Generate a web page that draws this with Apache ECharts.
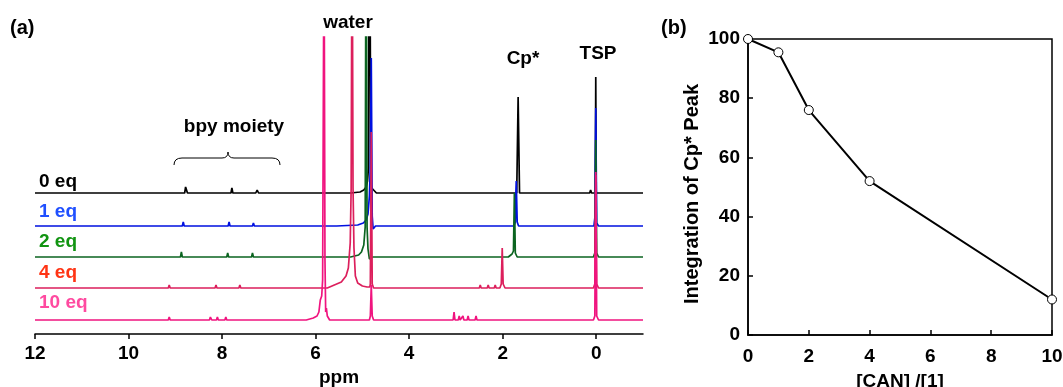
<!DOCTYPE html>
<html>
<head>
<meta charset="utf-8">
<script src="https://cdn.jsdelivr.net/npm/echarts@6/dist/echarts.min.js"></script>
<style>
html,body{margin:0;padding:0;background:#fff;overflow:hidden;}
#c{width:1063px;height:387px;}
</style>
</head>
<body>
<div id="c"></div>
<script>
// ---------- DATA ----------
const ppmTicks = [12, 10, 8, 6, 4, 2, 0];
const eqLabels = ['0 eq', '1 eq', '2 eq', '4 eq', '10 eq'];
const baselineOffsets = [141, 108, 77, 46, 14];

// spectra as [ppm, intensity] points
const spec0eq = [[12,0],[8.80,0],[8.78,6],[8.74,0],[7.81,0],[7.79,5],[7.77,0],[7.28,0],[7.25,3],[7.22,0],
  [5.25,0],[5.05,1],[4.97,3],[4.92,6],[4.89,12],[4.87,25],[4.85,400],[4.82,10],[4.80,5],[4.70,0],
  [1.70,0],[1.67,96],[1.64,0],[0.14,0],[0.12,3],[0.10,0],[0.02,0],[0.01,116],[0.0,0],[-1,0]];
const spec1eq = [[12,0],[8.85,0],[8.83,4],[8.81,0],[7.87,0],[7.85,4],[7.83,0],[7.35,0],[7.33,3],[7.31,0],
  [5.55,0],[5.10,1],[4.98,3],[4.92,6],[4.88,12],[4.85,30],[4.83,60],[4.81,168],[4.79,10],[4.77,-3],[4.72,0],
  [1.76,0],[1.73,4],[1.72,30],[1.71,45],[1.69,4],[1.66,0],[0.05,0],[0.03,8],[0.01,118],[-0.01,3],[-0.05,0],[-1,0]];
const spec2eq = [[12,0],[8.89,0],[8.87,5],[8.85,0],[7.90,0],[7.88,4],[7.86,0],[7.37,0],[7.35,4],[7.33,0],
  [5.25,0],[5.08,2],[5.02,5],[4.97,12],[4.94,30],[4.92,400],[4.90,30],[4.88,8],[4.85,-2],[4.78,0],
  [1.88,0],[1.80,3],[1.77,6],[1.75,64],[1.73,4],[1.69,0],[0.06,0],[0.03,4],[0.01,117],[-0.01,4],[-0.05,0],[-1,0]];
const spec4eq = [[12,0],[9.15,0],[9.13,3],[9.11,0],[8.15,0],[8.13,3],[8.11,0],[7.64,0],[7.62,3],[7.60,0],
  [5.75,0],[5.60,3],[5.45,6],[5.35,12],[5.30,20],[5.26,45],[5.24,100],[5.22,400],[5.20,100],[5.18,40],[5.15,12],[5.10,5],[5.00,2],[4.90,1],
  [4.84,1],[4.83,4],[4.81,156],[4.79,4],[4.76,0],
  [2.50,0],[2.48,3],[2.46,0],[2.33,0],[2.31,3],[2.29,0],[2.18,0],[2.16,3],[2.14,0],[2.06,0],[2.03,4],[2.01,40],[1.99,4],[1.95,0],
  [0.06,0],[0.03,4],[0.01,113],[-0.01,4],[-0.05,0],[-1,0]];
const spec10eq = [[12,0],[9.15,0],[9.13,3],[9.11,0],[8.27,0],[8.25,3],[8.22,0],[8.12,0],[8.10,3],[8.08,0],[7.94,0],[7.92,3],[7.90,0],
  [6.20,0],[6.05,2],[5.97,4],[5.93,8],[5.90,20],[5.87,24],[5.85,40],[5.82,400],[5.80,60],[5.785,8],[5.77,12],[5.75,4],[5.70,0],
  [4.85,0],[4.83,4],[4.81,35],[4.79,4],[4.76,0],
  [3.06,0],[3.04,8],[3.02,0],[2.95,0],[2.93,4],[2.91,0],[2.87,0],[2.85,4],[2.83,0],[2.76,0],[2.74,4],[2.72,0],[2.59,0],[2.57,4],[2.55,0],
  [0.06,0],[0.03,4],[0.01,148],[-0.01,4],[-0.05,0],[-1,0]];
const spectra = [spec0eq, spec1eq, spec2eq, spec4eq, spec10eq];

// panel (b)
const canRatio = [0, 1, 2, 4, 10];
const cpPeakIntegration = [100, 95.5, 76, 52, 12];

// ---------- STYLE ----------
const FONT = '"Liberation Sans", Arial, Helvetica, sans-serif';
const lineColors = ['#000000', '#0010e0', '#0b6420', '#dc1f5c', '#f0147f'];
const labelColors = ['#000000', '#1f4fff', '#119411', '#ff3414', '#ff4aa0'];
const labelY = [182, 212, 242, 273, 303];

const chart = echarts.init(document.getElementById('c'), null, {renderer: 'canvas'});

const specSeries = spectra.map((s, i) => ({
  type: 'line',
  xAxisIndex: 0, yAxisIndex: 0,
  showSymbol: false, symbol: 'none',
  animation: false,
  clip: true,
  smooth: false,
  lineStyle: {color: lineColors[i], width: 1.7, join: 'bevel'},
  data: s.map(p => [p[0], p[1] + baselineOffsets[i]]),
  z: 2 + i
}));

function txt(t, x, y, size, color, align, rot) {
  return {type: 'text', x: x, y: y, rotation: rot || 0, silent: true,
    style: {text: t, font: 'bold ' + size + 'px ' + FONT, fill: color, align: align || 'center', verticalAlign: 'middle'}};
}
const braceStyle = {stroke: '#000', lineWidth: 1, fill: null};
const graphics = [
  txt('(a)', 10, 28, 20, '#000', 'left'),
  txt('(b)', 661, 28, 20, '#000', 'left'),
  txt('water', 348, 23, 19, '#000'),
  txt('Cp*', 523, 59, 19, '#000'),
  txt('TSP', 598, 54, 19, '#000'),
  txt('bpy moiety', 234, 127, 19, '#000'),
  txt('Integration of Cp* Peak', 692, 194, 20, '#000', 'center', Math.PI / 2),
  {type: 'bezierCurve', shape: {x1: 174, y1: 165, cpx1: 174, cpy1: 158, x2: 182, y2: 158}, style: braceStyle},
  {type: 'line', shape: {x1: 182, y1: 158, x2: 222, y2: 158}, style: braceStyle},
  {type: 'bezierCurve', shape: {x1: 222, y1: 158, cpx1: 228, cpy1: 158, x2: 228, y2: 152}, style: braceStyle},
  {type: 'bezierCurve', shape: {x1: 228, y1: 152, cpx1: 228, cpy1: 158, x2: 234, y2: 158}, style: braceStyle},
  {type: 'line', shape: {x1: 234, y1: 158, x2: 272, y2: 158}, style: braceStyle},
  {type: 'bezierCurve', shape: {x1: 272, y1: 158, cpx1: 280, cpy1: 158, x2: 280, y2: 165}, style: braceStyle}
];
eqLabels.forEach((t, i) => {
  graphics.push(txt(t, 39, labelY[i], 19, labelColors[i], 'left'));
});

const option = {
  animation: false,
  backgroundColor: '#fff',
  grid: [
    {left: 35, right: 420, top: 37, bottom: 53, containLabel: false, outerBoundsMode: 'none'},
    {left: 748, right: 11, top: 39, bottom: 52, containLabel: false, outerBoundsMode: 'none', show: true, borderColor: '#000', borderWidth: 1.5, backgroundColor: 'transparent'}
  ],
  xAxis: [
    {
      type: 'value', gridIndex: 0, min: -1, max: 12, inverse: true,
      name: 'ppm', nameLocation: 'middle', nameGap: 31,
      nameTextStyle: {fontFamily: FONT, fontWeight: 'bold', fontSize: 19, color: '#000'},
      axisLine: {show: true, onZero: false, lineStyle: {color: '#000', width: 1.5}},
      axisTick: {show: true, inside: false, length: 5, customValues: ppmTicks, lineStyle: {color: '#000', width: 1.5}},
      axisLabel: {show: true, margin: 10, customValues: ppmTicks, fontFamily: FONT, fontWeight: 'bold', fontSize: 19, color: '#000'},
      splitLine: {show: false}
    },
    {
      type: 'value', gridIndex: 1, min: 0, max: 10, interval: 2,
      name: '[CAN] /[1]', nameLocation: 'middle', nameGap: 37,
      nameTextStyle: {fontFamily: FONT, fontWeight: 'bold', fontSize: 19, color: '#000'},
      axisLine: {show: true, onZero: false, lineStyle: {color: '#000', width: 1.5}},
      axisTick: {show: true, inside: true, length: 5, lineStyle: {color: '#000', width: 1.5}},
      axisLabel: {margin: 12, fontFamily: FONT, fontWeight: 'bold', fontSize: 19, color: '#000'},
      splitLine: {show: false}
    }
  ],
  yAxis: [
    {type: 'value', gridIndex: 0, min: 0, max: 297, show: false, splitLine: {show: false}},
    {
      type: 'value', gridIndex: 1, min: 0, max: 100, interval: 20,
      axisLine: {show: true, onZero: false, lineStyle: {color: '#000', width: 1.5}},
      axisTick: {show: true, inside: true, length: 5, lineStyle: {color: '#000', width: 1.5}},
      axisLabel: {margin: 8, fontFamily: FONT, fontWeight: 'bold', fontSize: 19, color: '#000'},
      splitLine: {show: false}
    }
  ],
  series: specSeries.concat([{
    type: 'line', xAxisIndex: 1, yAxisIndex: 1,
    data: canRatio.map((x, i) => [x, cpPeakIntegration[i]]),
    symbol: 'circle', symbolSize: 9, showSymbol: true, clip: false,
    lineStyle: {color: '#000', width: 2},
    itemStyle: {color: '#fff', borderColor: '#000', borderWidth: 1},
    z: 10
  }]),
  graphic: graphics
};
chart.setOption(option);
</script>
</body>
</html>
